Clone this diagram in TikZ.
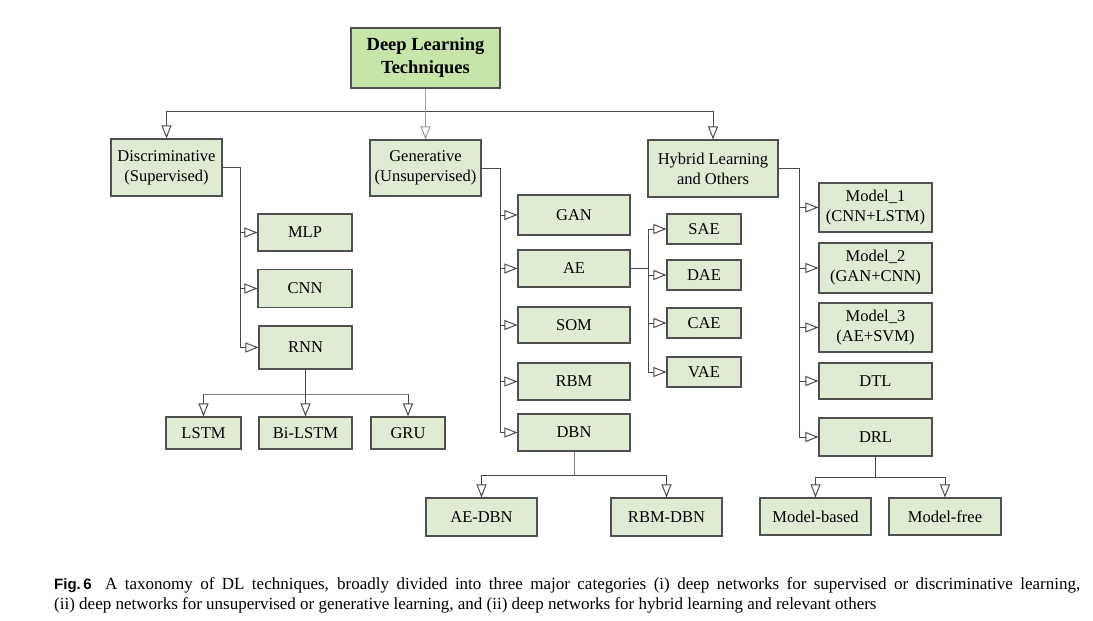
\documentclass[tikz,border=0pt]{standalone}
\usepackage{fontspec}
\setmainfont{Liberation Serif}
\newfontfamily\capsans{Liberation Sans}
\usetikzlibrary{arrows.meta}
\definecolor{titlefill}{HTML}{C6E5A8}
\definecolor{boxfill}{HTML}{DFEBD2}
\definecolor{boxdraw}{HTML}{505050}
\definecolor{linecol}{HTML}{4A4A4A}
\tikzset{
  box/.style={draw=boxdraw, line width=1.1pt, fill=boxfill, inner sep=0pt, align=center,
    font=\rmfamily\fontsize{16.5}{20}\selectfont},
  titlebox/.style={box, fill=titlefill, font=\rmfamily\fontsize{18.5}{23}\selectfont\bfseries},
  conn/.style={draw=linecol, line width=1pt},
  arr/.style={conn, -{Triangle[open, length=13pt, width=10pt, line width=1pt]}},
  captext/.style={anchor=base west, inner sep=0pt, font=\rmfamily\fontsize{17}{20}\selectfont},
}
\begin{document}
\begin{tikzpicture}[x=1pt, y=-1pt]
\useasboundingbox (0,0) rectangle (1093,621);
% nodes
\node[titlebox, minimum width=149pt, minimum height=60pt] (title) at (425.5,58) {Deep Learning\\Techniques};
\node[box, minimum width=111pt, minimum height=57pt] (disc) at (166.5,167.5) {Discriminative\\(Supervised)};
\node[box, minimum width=111pt, minimum height=56pt] (gen) at (425.5,168) {Generative\\(Unsupervised)};
\node[box, minimum width=130pt, minimum height=57pt] (hyb) at (713,168.5) {Hybrid Learning\\and Others};
% discriminative
\node[box, minimum width=94pt, minimum height=37pt] (mlp) at (305,232.5) {MLP};
\node[box, minimum width=94pt, minimum height=38pt] (cnn) at (305,288.5) {CNN};
\node[box, minimum width=93pt, minimum height=43pt] (rnn) at (305.5,347.5) {RNN};
\node[box, minimum width=75pt, minimum height=32pt] (lstm) at (203.5,433) {LSTM};
\node[box, minimum width=93pt, minimum height=32pt] (bilstm) at (305.5,433) {Bi-LSTM};
\node[box, minimum width=74pt, minimum height=32pt] (gru) at (408,433) {GRU};
% generative
\node[box, minimum width=112pt, minimum height=40pt] (gan) at (574,215) {GAN};
\node[box, minimum width=112pt, minimum height=37pt] (ae) at (574,268.5) {AE};
\node[box, minimum width=112pt, minimum height=36pt] (som) at (574,325) {SOM};
\node[box, minimum width=112pt, minimum height=37pt] (rbm) at (574,381.5) {RBM};
\node[box, minimum width=112pt, minimum height=37pt] (dbn) at (574,432.5) {DBN};
\node[box, minimum width=74pt, minimum height=30pt] (sae) at (704,229) {SAE};
\node[box, minimum width=74pt, minimum height=30pt] (dae) at (704,275) {DAE};
\node[box, minimum width=74pt, minimum height=30pt] (cae) at (704,323) {CAE};
\node[box, minimum width=74pt, minimum height=30pt] (vae) at (704,372) {VAE};
\node[box, minimum width=111pt, minimum height=38pt] (aedbn) at (481.5,517) {AE-DBN};
\node[box, minimum width=111pt, minimum height=38pt] (rbmdbn) at (666.5,517) {RBM-DBN};
% hybrid
\node[box, minimum width=113pt, minimum height=49pt] (m1) at (875.5,207.5) {Model\_1\\(CNN+LSTM)};
\node[box, minimum width=113pt, minimum height=50pt] (m2) at (875.5,268) {Model\_2\\(GAN+CNN)};
\node[box, minimum width=113pt, minimum height=49pt] (m3) at (875.5,327.5) {Model\_3\\(AE+SVM)};
\node[box, minimum width=113pt, minimum height=36pt] (dtl) at (875.5,381) {DTL};
\node[box, minimum width=113pt, minimum height=38pt] (drl) at (875.5,437) {DRL};
\node[box, minimum width=111pt, minimum height=37pt] (mb) at (815.5,516.5) {Model-based};
\node[box, minimum width=112pt, minimum height=37pt] (mf) at (945,516.5) {Model-free};
% bus coordinates
\coordinate (bus) at (425.5,111);
\coordinate (dbus) at (240,0);
\coordinate (rj) at (305.5,394);
\coordinate (gbus) at (500,0);
\coordinate (abus) at (648,0);
\coordinate (dj) at (574,475);
\coordinate (hbus) at (799,0);
\coordinate (hj) at (875.5,477);
% top level
\draw[conn, draw=gray!70] (title.south) -- (bus);
\draw[conn] (disc.north |- bus) -- (hyb.north |- bus);
\draw[arr] (disc.north |- bus) -- (disc.north);
\draw[arr, draw=gray!80] (bus) -- (gen.north);
\draw[arr] (hyb.north |- bus) -- (hyb.north);
% discriminative
\draw[conn] (disc.east) -| (dbus |- rnn.west);
\draw[arr] (dbus |- mlp.west) -- (mlp.west);
\draw[arr] (dbus |- cnn.west) -- (cnn.west);
\draw[arr] (dbus |- rnn.west) -- (rnn.west);
\draw[conn, line width=1.4pt] (rnn.south) -- (rj);
\draw[conn, draw=gray] (lstm.north |- rj) -- (gru.north |- rj);
\draw[arr] (lstm.north |- rj) -- (lstm.north);
\draw[arr] (rj) -- (bilstm.north);
\draw[arr] (gru.north |- rj) -- (gru.north);
% generative
\draw[conn] (gen.east) -| (gbus |- dbn.west);
\draw[arr] (gbus |- gan.west) -- (gan.west);
\draw[arr] (gbus |- ae.west) -- (ae.west);
\draw[arr] (gbus |- som.west) -- (som.west);
\draw[arr] (gbus |- rbm.west) -- (rbm.west);
\draw[arr] (gbus |- dbn.west) -- (dbn.west);
\draw[conn] (ae.east) -- (ae.east -| abus);
\draw[conn] (abus |- sae.west) -- (abus |- vae.west);
\draw[arr] (abus |- sae.west) -- (sae.west);
\draw[arr] (abus |- dae.west) -- (dae.west);
\draw[arr] (abus |- cae.west) -- (cae.west);
\draw[arr] (abus |- vae.west) -- (vae.west);
\draw[conn, draw=gray] (dbn.south) -- (dj);
\draw[conn] (aedbn.north |- dj) -- (rbmdbn.north |- dj);
\draw[arr] (aedbn.north |- dj) -- (aedbn.north);
\draw[arr] (rbmdbn.north |- dj) -- (rbmdbn.north);
% hybrid
\draw[conn] (hyb.east) -| (hbus |- drl.west);
\draw[arr] (hbus |- m1.west) -- (m1.west);
\draw[arr] (hbus |- m2.west) -- (m2.west);
\draw[arr] (hbus |- m3.west) -- (m3.west);
\draw[arr] (hbus |- dtl.west) -- (dtl.west);
\draw[arr] (hbus |- drl.west) -- (drl.west);
\draw[conn] (drl.south) -- (hj);
\draw[conn] (mb.north |- hj) -- (mf.north |- hj);
\draw[arr] (mb.north |- hj) -- (mb.north);
\draw[arr] (mf.north |- hj) -- (mf.north);
% caption
\node[captext] (cap1) at (54,589)
  {\makebox[1026pt][s]{{\capsans\bfseries\fontsize{15}{18}\selectfont Fig.\,6}\hspace{6pt} A taxonomy of DL techniques, broadly divided into three major categories (i) deep networks for supervised or discriminative learning,}};
\node[captext] (cap2) at (54,609)
  {(ii) deep networks for unsupervised or generative learning, and (ii) deep networks for hybrid learning and relevant others};
\end{tikzpicture}
\end{document}
